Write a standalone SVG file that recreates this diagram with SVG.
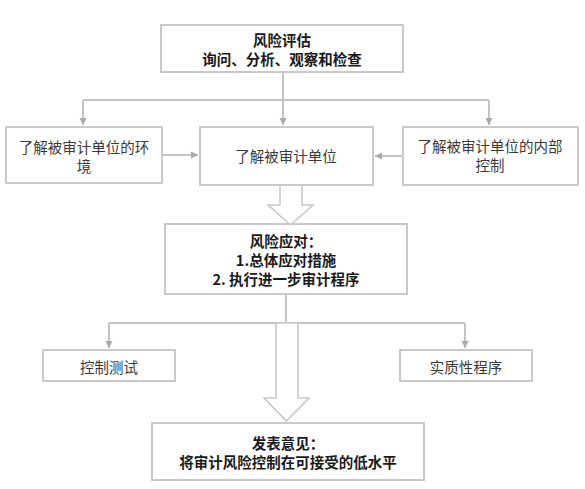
<svg xmlns="http://www.w3.org/2000/svg" width="585" height="489" viewBox="0 0 585 489">
<defs>
<marker id="ah" markerWidth="8" markerHeight="8" refX="7" refY="4" orient="auto" markerUnits="userSpaceOnUse">
<path d="M0,0.5 L7,4 L0,7.5 Z" fill="#a8a8b0"/>
</marker>
</defs>
<style>
.box{fill:#fff;stroke:#c9c9c9;stroke-width:2}
.ln{fill:none;stroke:#c4c4c8;stroke-width:2}
.hollow{fill:#fff;stroke:#c9c9c9;stroke-width:1.6}
.t{font-family:"Noto Sans CJK SC","Liberation Sans",sans-serif;font-size:14.5px;fill:#3a3a3a;text-anchor:middle;dominant-baseline:central}
.b{font-family:"Noto Sans CJK SC","Liberation Serif",serif;font-size:14.5px;font-weight:bold;fill:#1a1a1a;text-anchor:middle;dominant-baseline:central}
</style>
<rect width="585" height="489" fill="#fff"/>
<g id="connectors">
<path class="ln" d="M283,72 V100"/>
<path class="ln" d="M83,100 H489"/>
<path class="ln" d="M83,100 V125" marker-end="url(#ah)"/>
<path class="ln" d="M283,100 V125" marker-end="url(#ah)"/>
<path class="ln" d="M489,100 V125" marker-end="url(#ah)"/>
<path class="ln" d="M162,155 H198" marker-end="url(#ah)"/>
<path class="ln" d="M403,156 H375" marker-end="url(#ah)"/>
<path class="hollow" d="M280,185 V205 H268 L290.5,225 L313,205 H302 V185 Z"/>
<path class="ln" d="M286,294 V323"/>
<path class="ln" d="M109,323 H465"/>
<path class="ln" d="M109,323 V348" marker-end="url(#ah)"/>
<path class="ln" d="M465,323 V348" marker-end="url(#ah)"/>
<path class="hollow" d="M276,323 V398 H264 L286.5,421 L309,398 H298 V323 Z"/>
</g>
<g id="n1">
<rect class="box" x="161" y="25" width="242" height="47"/>
<text class="b" x="282" y="39">风险评估</text>
<text class="b" x="282" y="58">询问、分析、观察和检查</text>
</g>
<g id="n2">
<rect class="box" x="6" y="127" width="156" height="56"/>
<text class="t" x="84" y="146">了解被审计单位的环</text>
<text class="t" x="84" y="165">境</text>
</g>
<g id="n3">
<rect class="box" x="200" y="127" width="173" height="58"/>
<text class="t" x="286" y="155">了解被审计单位</text>
</g>
<g id="n4">
<rect class="box" x="403" y="127" width="175" height="58"/>
<text class="t" x="490" y="145">了解被审计单位的内部</text>
<text class="t" x="490" y="164">控制</text>
</g>
<g id="n5">
<rect class="box" x="165" y="224" width="242" height="70"/>
<text class="b" x="286" y="240">风险应对：</text>
<text class="b" x="286" y="259">1.总体应对措施</text>
<text class="b" x="286" y="278">2. 执行进一步审计程序</text>
</g>
<g id="n6">
<rect class="box" x="43" y="350" width="132" height="31"/>
<text class="t" x="109" y="366">控制测试</text>
</g>
<g id="n7">
<rect class="box" x="400" y="350" width="132" height="31"/>
<text class="t" x="466" y="366">实质性程序</text>
</g>
<g id="n8">
<rect class="box" x="152" y="423" width="272" height="57"/>
<text class="b" x="288" y="442">发表意见：</text>
<text class="b" x="288" y="461">将审计风险控制在可接受的低水平</text>
</g>
</svg>
